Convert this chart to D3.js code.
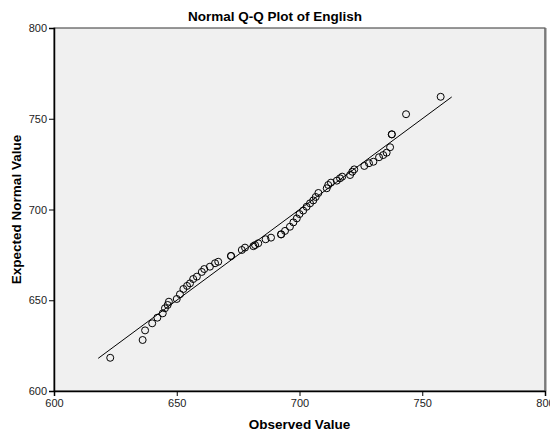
<!DOCTYPE html>
<html>
<head>
<meta charset="utf-8">
<script src="https://cdn.jsdelivr.net/npm/d3@7"></script>
<style>
  body { margin: 0; background: #fff; }
  text { font-family: "Liberation Sans", Arial, sans-serif; }
</style>
</head>
<body>
<svg id="chart" width="550" height="434"></svg>
<script>
// observed scores and their expected normal values
const observed = [622.9, 636.1, 637.1, 640.0, 642.1, 644.3, 645.2, 646.3, 646.8, 650.0,
    651.3, 652.7, 654.2, 655.4, 656.7, 658.2, 660.2, 661.2, 663.5, 665.6,
    666.9, 672.1, 672.1, 676.5, 677.8, 681.2, 681.9, 683.2, 686.2, 688.4, 692.5,
    692.5, 694.1, 696.1, 697.5, 698.9, 700.0, 701.5, 702.9, 704.3, 705.6,
    706.6, 707.7, 711.1, 711.7, 712.8, 715.2, 716.5, 717.4, 720.6, 721.5,
    722.3, 726.4, 728.3, 730.1, 732.4, 734.1, 735.5, 736.9, 737.6, 737.6,
    743.4, 757.5];
const expected = [618.3, 628.1, 633.4, 637.3, 640.4, 642.8, 645.6, 647.4, 649.2, 650.7,
    653.3, 656.2, 657.9, 659.3, 661.7, 663.0, 665.6, 667.2, 668.5, 670.4,
    671.2, 674.4, 674.4, 677.7, 679.0, 679.8, 680.4, 681.4, 683.6, 684.5, 686.3,
    686.3, 688.2, 690.5, 692.9, 695.1, 697.5, 699.4, 701.5, 703.4, 705.0,
    706.9, 709.1, 711.7, 713.5, 714.8, 715.9, 717.2, 718.1, 719.0, 720.8,
    722.1, 724.0, 725.5, 726.3, 728.8, 730.0, 731.3, 734.3, 741.4, 741.4,
    752.5, 762.1];
const refLine = [618, 762];
const xTicks = [600, 650, 700, 750, 800];
const yTicks = [600, 650, 700, 750, 800];

const svg = d3.select("#chart");
const plotLeft = 54, plotRight = 545, plotTop = 28, plotBottom = 391;

const x = d3.scaleLinear().domain([600, 800]).range([plotLeft, plotRight]);
const y = d3.scaleLinear().domain([600, 800]).range([plotBottom, plotTop]);

// plot background
svg.append("rect")
    .attr("x", plotLeft).attr("y", plotTop)
    .attr("width", plotRight - plotLeft).attr("height", plotBottom - plotTop)
    .attr("fill", "#f0f0f0")
    .attr("stroke", "#333").attr("stroke-width", 1);
svg.append("line")
    .attr("x1", plotRight + 0.5).attr("x2", plotRight + 0.5)
    .attr("y1", plotTop).attr("y2", plotBottom)
    .attr("stroke", "#7a7a7a").attr("stroke-width", 2);

// axes
const xAxis = svg.append("g")
    .attr("transform", `translate(0,${plotBottom})`)
    .call(d3.axisBottom(x).tickValues(xTicks).tickSize(5).tickPadding(3).tickFormat(d3.format("d")));
const yAxis = svg.append("g")
    .attr("transform", `translate(${plotLeft},0)`)
    .call(d3.axisLeft(y).tickValues(yTicks).tickSize(5).tickPadding(2).tickFormat(d3.format("d")));

[xAxis, yAxis].forEach(g => {
    g.select(".domain").attr("stroke", "#000").attr("stroke-width", 1.5);
    g.selectAll(".tick line").attr("stroke", "#000");
    g.selectAll(".tick text")
        .attr("fill", "#222")
        .style("font-size", "11px")
        .style("font-family", "'Liberation Sans', Arial, sans-serif");
});

// reference line
svg.append("line")
    .attr("x1", x(refLine[0])).attr("y1", y(refLine[0]))
    .attr("x2", x(refLine[1])).attr("y2", y(refLine[1]))
    .attr("stroke", "#000").attr("stroke-width", 1);

// points
svg.append("g")
    .selectAll("circle")
    .data(observed)
    .join("circle")
    .attr("cx", d => x(d))
    .attr("cy", (d, i) => y(expected[i]))
    .attr("r", 3.5)
    .attr("fill", "none")
    .attr("stroke", "#000")
    .attr("stroke-width", 1);

// titles
svg.append("text")
    .attr("x", 275).attr("y", 21)
    .attr("text-anchor", "middle")
    .style("font-size", "13.5px").style("font-weight", "bold")
    .text("Normal Q-Q Plot of English");

svg.append("text")
    .attr("x", (plotLeft + plotRight) / 2).attr("y", 429)
    .attr("text-anchor", "middle")
    .style("font-size", "13.5px").style("font-weight", "bold")
    .text("Observed Value");

svg.append("text")
    .attr("transform", `translate(21,${(plotTop + plotBottom) / 2}) rotate(-90)`)
    .attr("text-anchor", "middle")
    .style("font-size", "13.5px").style("font-weight", "bold")
    .text("Expected Normal Value");
</script>
</body>
</html>
